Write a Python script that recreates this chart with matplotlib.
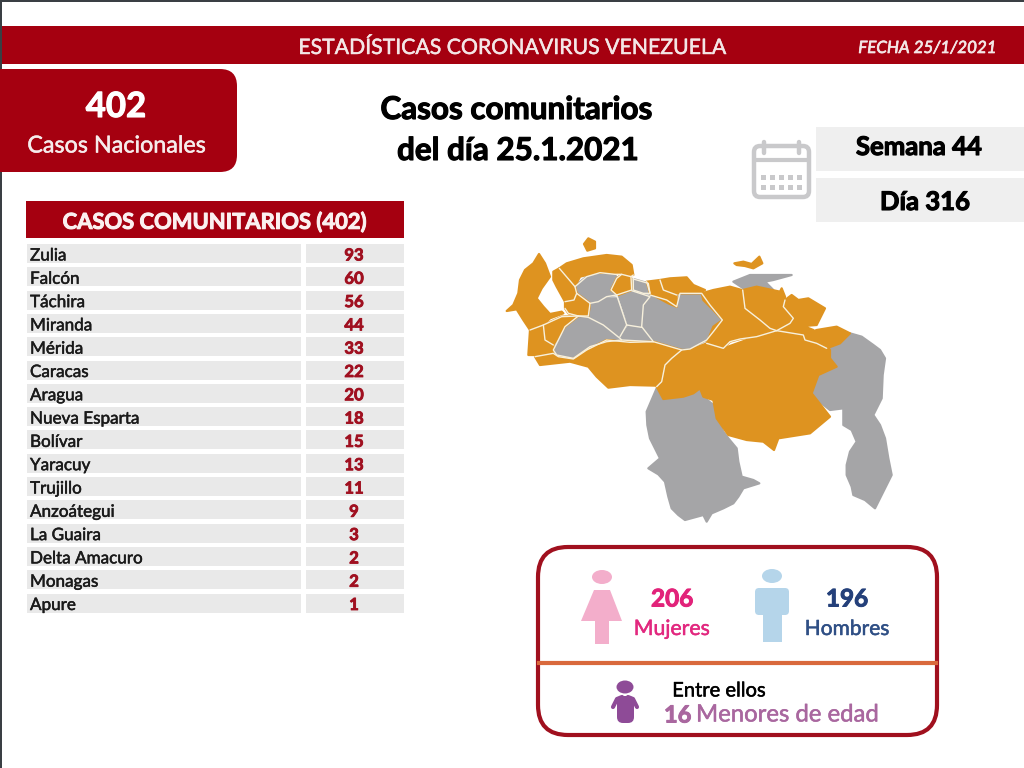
import matplotlib
matplotlib.use("Agg")
import matplotlib.pyplot as plt
import matplotlib.patheffects as pe
from matplotlib.patches import FancyBboxPatch, Polygon, Rectangle, Ellipse

plt.rcParams['font.family'] = ['Lato', 'DejaVu Sans']

states = ["Zulia", "Falcón", "Táchira", "Miranda", "Mérida", "Caracas", "Aragua", "Nueva Esparta",
          "Bolívar", "Yaracuy", "Trujillo", "Anzoátegui", "La Guaira", "Delta Amacuro", "Monagas", "Apure"]
cases = [93, 60, 56, 44, 33, 22, 20, 18, 15, 13, 11, 9, 3, 2, 2, 1]

RED = "#A50010"
ORANGE = "#DE9320"
GRAY = "#A5A5A7"

fig = plt.figure(figsize=(10.24, 7.68), dpi=100, facecolor="white")
ax = fig.add_axes([0, 0, 1, 1])
ax.set_xlim(0, 1024)
ax.set_ylim(768, 0)
ax.axis("off")


def rect(x0, y0, x1, y1, color, z=1):
    ax.add_patch(Rectangle((x0, y0), x1 - x0, y1 - y0, fc=color, ec="none", zorder=z))


def rrect(x0, y0, x1, y1, r, fc, ec="none", lw=0, z=2):
    ax.add_patch(FancyBboxPatch((x0 + r, y0 + r), x1 - x0 - 2 * r, y1 - y0 - 2 * r,
                                boxstyle=f"round,pad={r},rounding_size={r}",
                                fc=fc, ec=ec, lw=lw, zorder=z))


def txt(x, y, s, size, color="black", weight="normal", ha="center", style="normal", thick=0.35):
    t = ax.text(x, y, s, fontsize=size, color=color, fontweight=weight, ha=ha, va="center",
                style=style, zorder=6)
    if thick:
        t.set_path_effects([pe.withStroke(linewidth=thick, foreground=color)])


# page frame
rect(0, 0, 1024, 2, "#3A3F44")
rect(0, 0, 2, 768, "#3A3F44")

# top banner
rect(2, 26, 1024, 64, RED)
txt(513, 48, "ESTADÍSTICAS CORONAVIRUS VENEZUELA", 15.3, "#F4E6E6")
txt(927, 48, "FECHA 25/1/2021", 12.2, "#F4E6E6", style="italic", thick=0.5)

# national card
rrect(-20, 69, 237, 172, 17, RED)
txt(116, 107, "402", 25, "white", "bold", thick=0.8)
txt(117, 146, "Casos Nacionales", 16.8, "#F6ECEC")

# titles
txt(516, 110, "Casos comunitarios", 22.6, "black", "bold", thick=0.8)
txt(518, 151, "del día 25.1.2021", 22.6, "black", "bold", thick=0.8)

# week/day
rect(816, 127, 1024, 171, "#EFEFEF")
rect(816, 178, 1024, 222, "#EFEFEF")
txt(919, 147, "Semana 44", 18.5, "black", "bold", thick=0.8)
txt(925, 202, "Día 316", 18.5, "black", "bold", thick=0.8)

# calendar icon
CAL = "#C9C9CB"
rrect(754, 146, 809, 197, 6, "white", CAL, 3.2)
ax.plot([755, 808], [160, 160], color=CAL, lw=3, zorder=3)
for cx in (764, 799):
    ax.plot([cx, cx], [142, 153], color=CAL, lw=3.2, zorder=3, solid_capstyle="round")
for row_y in (177, 187):
    for col in range(5):
        rect(761 + col * 9, row_y - 2.5, 766 + col * 9, row_y + 2.5, CAL, 3)

# table
rect(26, 201, 404, 238, RED)
txt(215, 222, "CASOS COMUNITARIOS (402)", 15.8, "#FBF0F0", "bold", thick=0.7)
for i, (state, n) in enumerate(zip(states, cases)):
    yc = 254 + i * 23.3
    rect(27, yc - 10, 301, yc + 9, "#E9E9E9")
    rect(306, yc - 10, 404, yc + 9, "#E9E9E9")
    txt(30, yc + 1.5, state, 12.3, "#1A1A1A", ha="left")
    txt(354, yc + 1.5, str(n), 12, "#A01020", "bold", thick=0.6)


Z = dict(ox=490, oy=225)
W = dict(ox=500, oy=230)
E = dict(ox=670, oy=240)


def conv(points, ox, oy):
    return [(ox + x / 3, oy + y / 3) for x, y in points]


def region(points, color, ox=490, oy=225):
    ax.add_patch(Polygon(conv(points, ox, oy), closed=True, fc=color, ec=color,
                         lw=1.6, joinstyle="round", zorder=3))


def border(points, ox=490, oy=225):
    pts = conv(points, ox, oy)
    ax.plot([p[0] for p in pts], [p[1] for p in pts], color="#F7F0DC", lw=1.0,
            solid_joinstyle="round", solid_capstyle="round", zorder=4)


gray_z = [
    [(500,490),(485,525),(470,560),(472,600),(480,640),(495,670),(510,700),(475,730),(505,748),(525,770),(535,815),(545,850),(565,870),(585,885),(640,870),(650,890),(665,865),(700,850),(730,835),(745,815),(760,790),(808,775),(790,765),(755,755),(745,710),(740,670),(715,640),(700,620),(680,580),(670,540),(640,515),(630,490),(610,505),(580,515),(520,525)],
    [(1080,325),(1050,345),(1020,370),(1020,400),(1040,425),(985,450),(965,505),(995,535),(1020,555),(1060,550),(1060,600),(1085,615),(1100,650),(1080,680),(1070,720),(1070,750),(1085,785),(1090,810),(1125,825),(1155,850),(1180,800),(1205,750),(1195,700),(1185,640),(1170,600),(1150,570),(1175,520),(1178,450),(1185,400),(1170,375),(1150,360),(1115,335)],
    [(460,240),(480,210),(530,225),(560,245),(570,205),(635,205),(660,240),(697,285),(670,320),(650,345),(600,372),(545,365),(490,345),(455,300)],
]
gray_w = [
    [(228,165),(260,140),(300,128),(345,133),(350,145),(333,180),(350,195),(320,200),(295,215),(270,220),(230,190)],
    [(400,147),(445,160),(450,190),(430,190),(400,180)],
    [(270,225),(320,205),(350,205),(375,270),(380,285),(360,320),(310,280),(265,258)],
    [(160,360),(195,290),(235,262),(265,262),(310,285),(360,325),(365,330),(320,335),(270,350),(220,385),(170,375)],
    [(355,195),(400,185),(450,200),(430,225),(425,290),(385,283),(378,260)],
    [(385,290),(425,295),(460,335),(365,330),(365,320)],
]
gray_e = [
    [(190,125),(215,115),(240,105),(365,105),(310,120),(285,125),(310,150),(280,145),(250,140),(220,145)],
]
orange_z = [
    [(575,375),(545,400),(525,420),(515,470),(500,485),(520,522),(580,515),(610,505),(630,490),(640,515),(670,525),(680,580),(715,630),(770,645),(820,650),(852,675),(865,640),(960,625),(1020,575),(965,505),(985,450),(1040,425),(1020,400),(1020,375),(1000,355),(950,350),(935,325),(860,322),(770,345),(700,370),(650,355),(600,375)],
    [(135,395),(190,385),(205,395),(250,402),(290,375),(350,345),(420,352),(490,350),(575,375),(545,400),(525,420),(515,470),(500,482),(420,480),(355,488),(320,455),(295,425),(240,410),(150,420)],
    [(470,170),(510,165),(520,195),(560,210),(560,245),(535,235),(480,205)],
    [(510,165),(540,160),(590,157),(610,180),(645,195),(630,205),(570,205),(530,205)],
]
orange_w = [
    [(117,72),(100,100),(75,120),(60,150),(55,190),(40,225),(20,243),(50,238),(70,270),(90,300),(130,285),(150,265),(190,250),(185,245),(150,252),(130,230),(110,205),(125,175),(150,140),(135,100)],
    [(178,115),(200,100),(250,85),(320,75),(365,80),(395,105),(400,135),(360,130),(290,128),(240,140),(225,170)],
    [(160,125),(178,115),(225,170),(230,190),(222,210),(195,215),(170,170),(160,150)],
    [(195,215),(222,210),(230,190),(270,220),(265,258),(235,258),(205,250),(195,235)],
    [(130,285),(185,260),(235,258),(195,290),(160,345),(135,330)],
    [(90,300),(130,285),(135,330),(160,345),(160,370),(120,375),(85,375)],
    [(333,180),(350,145),(365,133),(393,140),(395,180),(355,195)],
    [(252,42),(265,25),(285,35),(285,55),(262,62)],
]
orange_e = [
    [(95,160),(130,150),(180,140),(215,150),(225,205),(270,240),(300,265),(320,272),(260,290),(210,297),(180,305),(160,325),(110,310),(130,260),(158,240),(130,210),(100,180)],
    [(218,150),(260,140),(330,155),(335,145),(345,170),(340,200),(370,235),(360,250),(320,272),(270,240),(225,205)],
    [(345,180),(365,165),(385,180),(415,175),(465,205),(440,255),(400,258),(430,270),(400,285),(320,272),(360,250),(370,235),(340,200)],
    [(400,285),(440,270),(500,260),(540,280),(510,310),(470,325),(440,310),(405,300)],
    [(193,70),(220,65),(245,72),(268,50),(277,70),(250,85),(225,78),(200,75)],
]
for p in gray_z:
    region(p, GRAY)
for p in gray_w:
    region(p, GRAY, **W)
for p in gray_e:
    region(p, GRAY, **E)
for p in orange_z:
    region(p, ORANGE)
for p in orange_w:
    region(p, ORANGE, **W)
for p in orange_e:
    region(p, ORANGE, **E)

borders_w = [
    [(178,115),(225,170)],
    [(225,170),(260,140),(300,128),(345,133),(365,133),(393,140),(400,135)],
    [(195,215),(222,210),(230,190)],
    [(225,170),(230,190),(270,220),(265,258),(235,258),(205,250),(195,235)],
    [(90,300),(130,285),(185,260),(235,258),(265,262),(310,285),(360,325),(365,330),(460,335)],
    [(235,258),(195,290),(160,360),(170,375),(220,385),(270,350),(320,335),(365,330)],
    [(130,285),(135,330),(160,345)],
    [(270,220),(295,215),(320,200),(350,195),(375,270),(380,285),(360,320)],
    [(350,195),(333,180),(350,145),(365,133)],
    [(350,195),(395,180),(393,140)],
    [(400,147),(400,180),(430,190),(450,190),(445,160),(400,147)],
    [(395,182),(450,200),(430,225),(425,290),(460,335)],
    [(380,285),(425,292)],
]
borders_z = [
    [(480,210),(530,225),(560,245),(570,205),(635,205),(660,240),(697,285),(670,320),(650,345),(600,372),(575,375),(545,400),(525,420),(515,470),(500,485)],
    [(510,165),(520,195),(560,210)],
    [(470,170),(480,205)],
    [(135,395),(190,385),(205,395),(250,402),(290,375),(350,345),(420,352),(490,350),(575,375)],
]
borders_e = [
    [(218,150),(225,205),(270,240),(300,265),(320,272)],
    [(110,310),(160,325),(180,305),(210,297),(260,290),(320,272),(400,285),(405,300),(440,310),(470,325)],
    [(345,180),(340,200),(370,235),(360,250),(320,272)],
]
for b in borders_w:
    border(b, **W)
for b in borders_z:
    border(b, **Z)
for b in borders_e:
    border(b, **E)

# gender box
rrect(538, 547, 937, 735, 30, "white", "#A0101E", 3)
ax.plot([539, 936], [663, 663], color="#D9693C", lw=3, zorder=3)

PINK = "#F3AECB"
BLUE = "#B5D5EA"
PURPLE = "#8E4B97"
ax.add_patch(Ellipse((602, 577), 20, 14, fc=PINK, ec="none", zorder=3))
ax.add_patch(Polygon([(594, 590), (610, 590), (622, 621), (609, 621), (609, 644), (595, 644), (595, 621), (581, 621)],
                     closed=True, fc=PINK, ec="none", zorder=3))
ax.add_patch(Ellipse((772, 576), 20, 14, fc=BLUE, ec="none", zorder=3))
rrect(755, 588, 789, 615, 4, BLUE, z=3)
rect(763, 610, 782, 642, BLUE, 3)
ax.add_patch(Ellipse((625, 687), 17, 13, fc=PURPLE, ec="none", zorder=3))
rrect(617, 696, 634, 723, 6, PURPLE, z=3)
ax.plot([613, 617, 622], [707, 699, 697], color=PURPLE, lw=3, zorder=3, solid_capstyle="round")
ax.plot([637, 633, 628], [707, 699, 697], color=PURPLE, lw=3, zorder=3, solid_capstyle="round")

txt(672, 599, "206", 17.5, "#E2237A", "bold", thick=0.7)
txt(672, 629, "Mujeres", 15.3, "#E2287F")
txt(847, 599, "196", 17.5, "#24407A", "bold", thick=0.7)
txt(847, 629, "Hombres", 15.1, "#2F4F85")
txt(719, 691, "Entre ellos", 14.5, "black")
txt(664, 715, "16", 17, "#A9679F", "bold", ha="left", thick=0.7)
txt(696, 715, "Menores de edad", 17.2, "#A9679F", ha="left")

fig.savefig("out.png", dpi=100, facecolor="white")
